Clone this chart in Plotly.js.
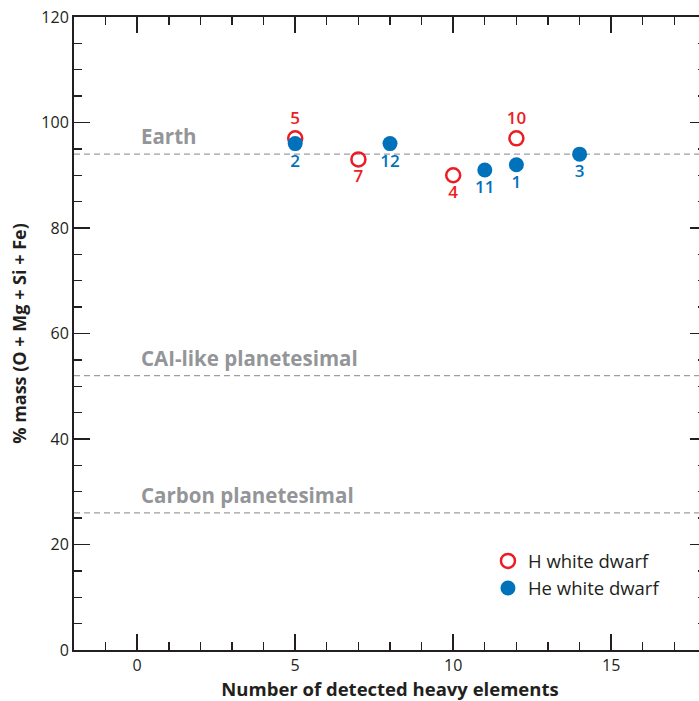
<!DOCTYPE html>
<html><head><meta charset="utf-8">
<script src="https://cdn.plot.ly/plotly-3.0.1.min.js"></script>
<style>html,body{margin:0;padding:0;overflow:hidden;background:#fff}</style>
</head><body>
<div id="chart"></div>
<script>
// H white dwarfs (open red circles)
const hX = [5, 7, 10, 12];
const hY = [97, 93, 90, 97];
const hLabels = ['5', '7', '4', '10'];
const hLabelPos = ['top center', 'bottom center', 'bottom center', 'top center'];
// He white dwarfs (filled blue circles)
const heX = [5, 8, 11, 12, 14];
const heY = [96, 96, 91, 92, 94];
const heLabels = ['2', '12', '11', '1', '3'];
// reference compositions
const refNames = ['Earth', 'CAI-like planetesimal', 'Carbon planetesimal'];
const refValues = [94, 52, 26];

const FONT = '"Open Sans", "Noto Sans", sans-serif';
const DARK = '#231f20';
const RED = '#ed1c24';
const BLUE = '#0072bc';
const GRAY = '#939598';

const traces = [
  {
    x: hX, y: hY, text: hLabels, textposition: hLabelPos,
    mode: 'markers+text', type: 'scatter', name: 'H white dwarf',
    marker: {symbol: 'circle-open', size: 14, color: RED, line: {width: 2.5, color: RED}},
    textfont: {family: FONT, size: 17, color: RED, weight: 600},
    cliponaxis: false
  },
  {
    x: heX, y: heY, text: heLabels, textposition: 'bottom center',
    mode: 'markers+text', type: 'scatter', name: 'He white dwarf',
    marker: {symbol: 'circle', size: 15, color: BLUE},
    textfont: {family: FONT, size: 17, color: BLUE, weight: 600},
    cliponaxis: false
  }
];

const shapes = refValues.map(v => ({
  type: 'line', xref: 'paper', x0: 0, x1: 1, yref: 'y', y0: v, y1: v,
  line: {color: '#9d9fa2', width: 1.2, dash: '6px,4px'}, layer: 'below'
}));
const annotations = refNames.map((n, i) => ({
  text: n, xref: 'x', x: 0.05, yref: 'y', y: refValues[i],
  xanchor: 'left', yanchor: 'bottom', yshift: 2, showarrow: false,
  font: {family: FONT, size: 20.5, color: GRAY, weight: 700}
}));

const layout = {
  width: 722, height: 701,
  margin: {l: 74, r: 16, t: 17, b: 51},
  paper_bgcolor: '#fff', plot_bgcolor: '#fff',
  font: {family: FONT, color: DARK},
  showlegend: true,
  legend: {x: 0.655, y: 0.17, xanchor: 'left', yanchor: 'top', bgcolor: 'rgba(0,0,0,0)',
           font: {family: FONT, size: 18.5, color: DARK}, itemwidth: 30, tracegroupgap: 4},
  xaxis: {
    range: [-2, 18], dtick: 5, tick0: 0, ticks: 'inside', ticklen: 16, tickwidth: 1.6, tickcolor: DARK,
    minor: {dtick: 1, ticks: 'inside', ticklen: 8, tickwidth: 1.4, tickcolor: DARK},
    showline: true, linecolor: DARK, linewidth: 2, mirror: 'allticks',
    showgrid: false, zeroline: false,
    tickfont: {family: FONT, size: 16, color: DARK},
    title: {text: 'Number of detected heavy elements', font: {family: FONT, size: 18.5, color: DARK, weight: 700}, standoff: 8}
  },
  yaxis: {
    range: [0, 120], dtick: 20, ticks: 'inside', ticklen: 16, tickwidth: 1.6, tickcolor: DARK,
    minor: {dtick: 5, ticks: 'inside', ticklen: 8, tickwidth: 1.4, tickcolor: DARK},
    showline: true, linecolor: DARK, linewidth: 2, mirror: 'allticks',
    showgrid: false, zeroline: false,
    tickfont: {family: FONT, size: 16, color: DARK},
    title: {text: '% mass (O + Mg + Si + Fe)', font: {family: FONT, size: 18, color: DARK, weight: 700}, standoff: 10}
  },
  shapes: shapes,
  annotations: annotations
};

Plotly.newPlot('chart', traces, layout, {displayModeBar: false, staticPlot: true});
</script>
</body></html>
